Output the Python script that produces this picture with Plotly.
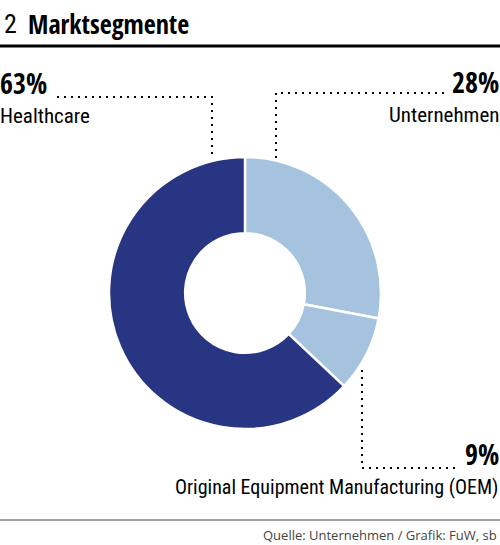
import plotly.graph_objects as go

labels = ["Unternehmen", "Original Equipment Manufacturing (OEM)", "Healthcare"]
values = [28, 9, 63]
colors = ["#a5c3df", "#a5c3df", "#283583"]
title_num = "2"
title_text = "Marktsegmente"
source = "Quelle: Unternehmen / Grafik: FuW, sb"

W, H = 500, 545
REG = "Roboto Condensed, DejaVu Sans Condensed, sans-serif"
BOLD = "Open Sans Condensed, Roboto Condensed, sans-serif"

def px(x):
    return x / W

def py(y):
    return 1 - y / H

cx, cy, r = 245, 293, 136

fig = go.Figure(go.Pie(
    labels=labels, values=values, sort=False, direction="clockwise", rotation=0,
    hole=0.44, marker=dict(colors=colors, line=dict(color="white", width=2.5)),
    textinfo="none", hoverinfo="label+percent", showlegend=False,
    domain=dict(x=[px(cx - r), px(cx + r)], y=[py(cy + r), py(cy - r)]),
))

ann = []
def add(text, x, y, xa, ya, size, bold=False, color="black", family=None):
    fam = family or (BOLD if bold else REG)
    ann.append(dict(text=f"<b>{text}</b>" if bold else text, x=px(x), y=py(y),
                    xref="paper", yref="paper", xanchor=xa, yanchor=ya, borderpad=0,
                    showarrow=False, font=dict(family=fam, size=size, color=color)))

# title
add(title_num, 3, 24, "left", "middle", 26)
add(title_text, 27, 24, "left", "middle", 26, bold=True)

# Healthcare
add(f"{values[2]}%", -1, 103, "left", "bottom", 28, bold=True)
add(labels[2], -1, 103, "left", "top", 21)
# Unternehmen
add(f"{values[0]}%", 500, 102, "right", "bottom", 28, bold=True)
add(labels[0], 500, 102, "right", "top", 21)
# OEM
add(f"{values[1]}%", 500, 474, "right", "bottom", 28, bold=True)
add(labels[1], 499, 474, "right", "top", 20)
# source
add(source, 498, 535, "right", "middle", 13, color="#444444", family="Open Sans, sans-serif")

def path(pts):
    d = "M " + " L ".join(f"{px(x)},{py(y)}" for x, y in pts)
    return dict(type="path", path=d, xref="paper", yref="paper",
                line=dict(color="black", width=2, dash="2px,5px"))

shapes = [
    dict(type="line", x0=0, x1=1, y0=py(46), y1=py(46), xref="paper", yref="paper",
         line=dict(color="black", width=3)),
    dict(type="line", x0=0, x1=1, y0=py(520), y1=py(520), xref="paper", yref="paper",
         line=dict(color="#444444", width=1)),
    path([(57, 97), (212, 97), (212, 156)]),
    path([(276, 158), (276, 93), (446, 93)]),
    path([(362, 370), (362, 468), (460, 468)]),
]

fig.update_layout(width=W, height=H, margin=dict(l=0, r=0, t=0, b=0),
                  paper_bgcolor="white", plot_bgcolor="white",
                  annotations=ann, shapes=shapes)
fig.write_html("out.html", config={"displayModeBar": False},
               post_script="document.body.style.margin='0'")
